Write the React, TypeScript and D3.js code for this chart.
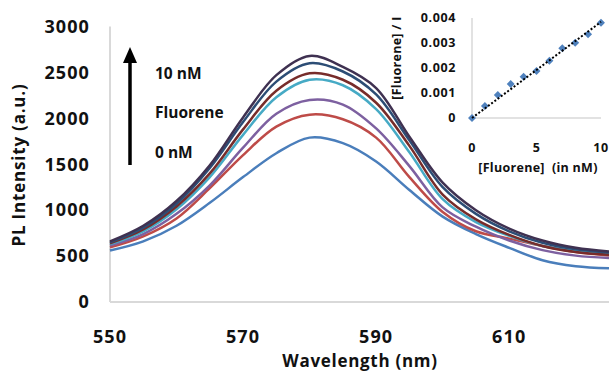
import React from "react";
import * as d3 from "d3";

// wavelengths (nm) sampled every 5 nm
const wavelengths = [550, 555, 560, 565, 570, 575, 580, 585, 590, 595, 600, 605, 610, 615, 620, 625];

// PL intensity spectra, 0 nM -> 10 nM fluorene
const spec0 = [560, 660, 830, 1080, 1360, 1620, 1790, 1730, 1530, 1220, 930, 740, 590, 455, 390, 368];
const spec1 = [595, 715, 910, 1240, 1600, 1910, 2040, 1990, 1790, 1360, 980, 770, 690, 610, 545, 505];
const spec2 = [615, 740, 960, 1270, 1680, 2050, 2200, 2150, 1890, 1480, 1030, 820, 670, 565, 505, 480];
const spec3 = [630, 770, 1010, 1360, 1820, 2230, 2420, 2360, 2100, 1630, 1120, 870, 720, 610, 555, 530];
const spec4 = [640, 790, 1040, 1400, 1880, 2300, 2490, 2420, 2170, 1700, 1170, 900, 730, 610, 545, 515];
const spec5 = [650, 810, 1070, 1460, 1960, 2400, 2600, 2510, 2260, 1760, 1250, 960, 770, 645, 575, 540];
const spec6 = [660, 830, 1100, 1490, 2010, 2470, 2680, 2560, 2330, 1800, 1300, 1000, 800, 670, 590, 550];

const spectra = [spec0, spec1, spec2, spec3, spec4, spec5, spec6];
const specColors = ["#4a7ebb", "#be4b48", "#7d60a0", "#46aac5", "#772c2a", "#2c4d75", "#3f3151"];

const yTicks = [0, 500, 1000, 1500, 2000, 2500, 3000];
const xTicks = [550, 570, 590, 610];

// inset: [Fluorene]/I against [Fluorene]
const concs = [0, 1, 2, 3, 4, 5, 6, 7, 8, 9, 10];
const ratios = [0, 0.00048, 0.00092, 0.00136, 0.00165, 0.00188, 0.00229, 0.00279, 0.00301, 0.00335, 0.00381];
const insetYTicks = [0, 0.001, 0.002, 0.003, 0.004];
const insetYLabels = ["0", "0.001", "0.002", "0.003", "0.004"];
const insetXTicks = [0, 5, 10];

const font = "'Open Sans', 'Liberation Sans', sans-serif";

export default function App() {
  const width = 609,
    height = 372;

  const x = d3.scaleLinear().domain([550, 625]).range([110, 609]);
  const y = d3.scaleLinear().domain([0, 3000]).range([302, 26.5]);

  const line = d3
    .line<number>()
    .x((d, i) => x(wavelengths[i]))
    .y((d) => y(d))
    .curve(d3.curveCatmullRom.alpha(0.5));

  const ix = d3.scaleLinear().domain([0, 10]).range([472, 601]);
  const iy = d3.scaleLinear().domain([0, 0.004]).range([118, 18]);

  // least squares line through origin
  const slope =
    d3.sum(concs, (c, i) => c * ratios[i]) / d3.sum(concs, (c) => c * c);

  const diamond = d3.symbol().type(d3.symbolDiamond2).size(40)();

  return (
    <svg
      width={width}
      height={height}
      style={{ position: "absolute", left: 0, top: 0, background: "#fff" }}
      fontFamily={font}
      fontWeight="bold"
    >
      {/* main axes */}
      <line x1={x(550)} x2={x(550)} y1={y(3000)} y2={y(0)} stroke="#d9d9d9" strokeWidth={2} />
      <line x1={x(550)} x2={x(625)} y1={y(0)} y2={y(0)} stroke="#d9d9d9" strokeWidth={2} />

      <g fontSize={18} letterSpacing={1.1} fill="#111">
        {yTicks.map((t) => (
          <text key={"y" + t} x={90} y={y(t)} dy="0.35em" textAnchor="end">
            {t}
          </text>
        ))}
        {xTicks.map((t) => (
          <text key={"x" + t} x={x(t)} y={343} textAnchor="middle">
            {t}
          </text>
        ))}
      </g>
      <g fontSize={17} fill="#111">
        <text x={360} y={367} textAnchor="middle" letterSpacing={0.7}>
          Wavelength (nm)
        </text>
        <text
          transform="translate(25,165) rotate(-90)"
          textAnchor="middle"
          letterSpacing={0.8}
        >
          PL Intensity (a.u.)
        </text>
      </g>

      {/* spectra */}
      <g fill="none" strokeWidth={2.5}>
        {spectra.map((s, k) => (
          <path key={"s" + k} d={line(s) || ""} stroke={specColors[k]} />
        ))}
      </g>

      {/* arrow annotation */}
      <line x1={130} x2={130} y1={165} y2={60} stroke="#000" strokeWidth={3.5} />
      <path d="M130,47 L137,63 L123,63 Z" fill="#000" />
      <g fontSize={15.5} fill="#111">
        <text x={155} y={79}>10 nM</text>
        <text x={155} y={118}>Fluorene</text>
        <text x={155} y={158}>0 nM</text>
      </g>

      {/* inset */}
      <line x1={ix(0)} x2={ix(0)} y1={iy(0.004)} y2={iy(0)} stroke="#d9d9d9" strokeWidth={1.5} />
      <line x1={ix(0)} x2={ix(10)} y1={iy(0)} y2={iy(0)} stroke="#d9d9d9" strokeWidth={1.5} />
      <g fontSize={12.5} fill="#111" letterSpacing={0.6}>
        {insetYTicks.map((t, i) => (
          <text key={"iy" + i} x={456} y={iy(t)} dy="0.35em" textAnchor="end">
            {insetYLabels[i]}
          </text>
        ))}
        {insetXTicks.map((t) => (
          <text key={"ix" + t} x={ix(t)} y={152} textAnchor="middle">
            {t}
          </text>
        ))}
        <text
          x={538}
          y={172}
          textAnchor="middle"
          letterSpacing={0.3}
          style={{ whiteSpace: "pre" }}
        >
          {"[Fluorene]  (in nM)"}
        </text>
        <text
          transform="translate(401,58) rotate(-90)"
          textAnchor="middle"
          letterSpacing={0.3}
        >
          [Fluorene] / I
        </text>
      </g>
      <g fill="#4f81bd">
        {concs.map((c, i) => (
          <path
            key={"p" + c}
            d={diamond || ""}
            transform={`translate(${ix(c)},${iy(ratios[i])})`}
          />
        ))}
      </g>
      <line
        x1={ix(0)}
        y1={iy(0)}
        x2={ix(10)}
        y2={iy(slope * 10)}
        stroke="#000"
        strokeWidth={2}
        strokeDasharray="2,2"
      />
    </svg>
  );
}
